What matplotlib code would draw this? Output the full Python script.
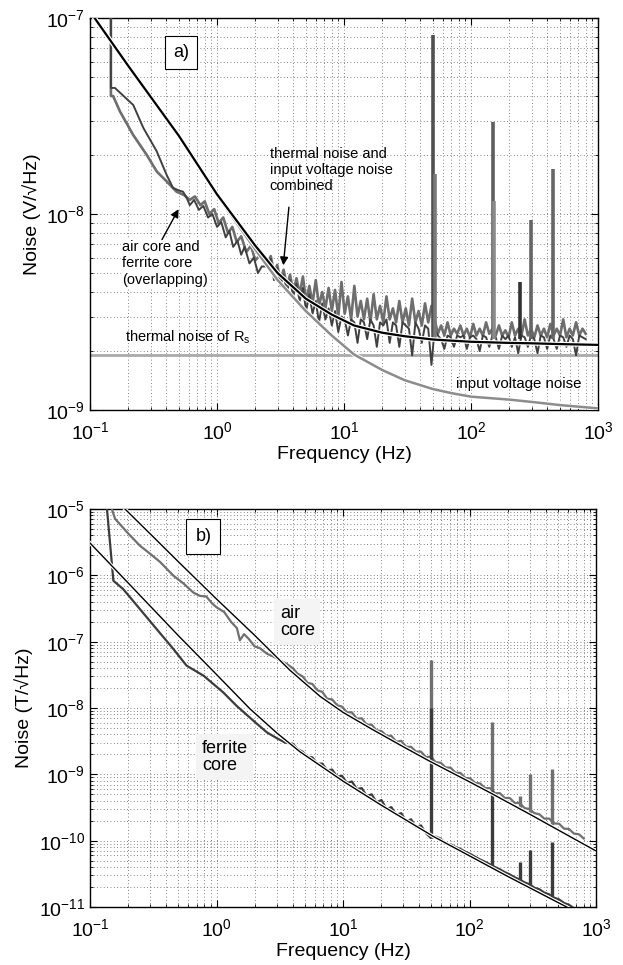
import numpy as np
import matplotlib
matplotlib.use("Agg")
import matplotlib.pyplot as plt
import matplotlib.patheffects as pe
from matplotlib.ticker import LogLocator, LogFormatterMathtext, NullFormatter

plt.rcParams['font.family'] = ['Liberation Sans', 'DejaVu Sans']
plt.rcParams['mathtext.fontset'] = 'custom'
plt.rcParams['mathtext.rm'] = 'Liberation Sans'
plt.rcParams['mathtext.it'] = 'Liberation Sans:italic'
plt.rcParams['mathtext.bf'] = 'Liberation Sans:bold'

# ---------------- panel a) data (V/sqrt(Hz), x 1e-9) ----------------
model_f = [0.1, 0.2, 0.5, 1, 2, 3, 5, 8, 12, 20, 30, 50, 70, 100, 200, 300, 500, 1000]
input_noise = [108, 57, 25, 12.5, 6.6, 4.6, 3.2, 2.4, 1.92, 1.6, 1.42, 1.28, 1.22, 1.17, 1.13, 1.1, 1.06, 1.02]
combined_noise = [108, 57, 25.1, 12.6, 6.9, 5.0, 3.7, 3.07, 2.7, 2.48, 2.38, 2.29, 2.26, 2.23, 2.2, 2.19, 2.17, 2.15]
thermal_f = [0.1, 1000]
thermal_noise = [1.9, 1.9]

# measured spectra, low-frequency part
dark_lo_f = [0.146, 0.146, 0.157, 0.219, 0.263, 0.335, 0.40, 0.45, 0.50, 0.54, 0.58, 0.61, 0.66, 0.72,
             0.78, 0.85, 0.92, 1.0, 1.08, 1.17, 1.25, 1.34, 1.45, 1.55, 1.65, 1.8, 1.95, 2.1, 2.25]
dark_lo_v = [130, 44, 44, 36, 27.5, 20.9, 15.9, 13.6, 13.2, 13.0, 12.0, 11.1, 11.8, 10.5,
             11.0, 9.6, 10.0, 8.6, 9.1, 7.6, 8.2, 6.8, 7.3, 6.2, 6.8, 5.6, 6.0, 5.0, 5.4]
light_lo_f = [0.146, 0.146, 0.152, 0.172, 0.218, 0.28, 0.335, 0.40, 0.48, 0.55, 0.61, 0.67, 0.74,
              0.8, 0.87, 0.95, 1.03, 1.12, 1.22, 1.32, 1.43, 1.55, 1.7, 1.85, 2.0, 2.2]
light_lo_v = [130, 40, 40, 33.4, 25.4, 20.0, 16.5, 14.7, 13.0, 12.5, 11.8, 12.3, 11.1,
              11.6, 10.0, 10.6, 9.0, 9.6, 8.0, 8.6, 7.2, 7.7, 6.4, 6.9, 5.8, 6.2]

# measured spectra, 2.5 - 800 Hz (noisy part)
noise_a_f = np.geomspace(2.5, 800, 100)
light_hi_v = [5.6, 6.1, 5.0, 5.5, 4.6, 5.2, 4.3, 4.9, 4.0, 4.7,
              3.9, 4.8, 3.6, 4.3, 3.5, 4.6, 3.4, 4.0, 3.3, 4.2,
              3.2, 4.1, 3.0, 4.5, 3.1, 3.8, 2.9, 4.3, 3.0, 3.6,
              2.9, 3.7, 2.8, 3.9, 2.9, 3.4, 2.8, 3.8, 2.9, 3.3,
              2.8, 3.6, 2.8, 3.3, 2.7, 3.7, 2.8, 3.2, 2.7, 3.5,
              2.8, 3.4, 2.9,
              2.45, 2.7, 2.4, 2.8, 2.4, 2.6, 2.45,
              2.7, 2.4, 2.6, 2.35, 2.75, 2.4, 2.6, 2.4, 2.8, 2.45,
              2.6, 2.4, 2.7, 2.4, 2.55, 2.35, 2.8, 2.4, 2.6, 2.4,
              2.9, 2.4, 2.6, 2.35, 2.7, 2.4, 2.6, 2.35, 2.75, 2.4,
              2.6, 2.4, 2.9, 2.35, 2.6, 2.4, 2.8, 2.4, 2.6, 2.45]
dark_hi_v = [5.4, 5.9, 4.6, 5.3, 4.3, 4.9, 4.0, 4.6, 3.8, 4.4,
             3.6, 4.2, 3.2, 3.9, 3.1, 3.6, 2.8, 3.5, 2.9, 3.3,
             2.7, 3.2, 2.5, 3.0, 2.9, 2.4, 2.9, 2.8, 2.2, 2.9,
             2.8, 2.3, 2.9, 2.7, 2.1, 2.8, 2.7, 2.9, 2.2, 2.8,
             2.7, 2.1, 2.8, 2.7, 2.6, 1.9, 2.8, 2.6, 2.2, 2.7,
             2.6, 1.7, 2.6,
             2.4, 2.3, 2.05, 2.4, 2.35, 2.1, 2.4,
             2.35, 2.4, 2.05, 2.35, 2.4, 2.3, 2.0, 2.4, 2.35, 2.1,
             2.4, 2.35, 2.05, 2.4, 2.3, 2.4, 2.1, 2.35, 1.95, 2.4,
             2.35, 2.1, 2.4, 2.3, 1.95, 2.4, 2.35, 2.05, 2.4, 2.3,
             2.05, 2.4, 2.35, 2.1, 2.4, 2.3, 1.9, 2.4, 2.35, 2.3]

# mains harmonics
spike_a_f = [50, 52, 150, 152, 245, 295, 445]
spike_a_top = [82, 16, 29.5, 11.7, 4.5, 9.3, 17]
spike_a_base = [2.3, 2.3, 2.3, 2.3, 2.3, 2.3, 2.3]
spike_a_col = ['#505050', '#7a7a7a', '#5e5e5e', '#8a8a8a', '#333333', '#666666', '#666666']

# ---------------- panel b) data (T/sqrt(Hz)) ----------------
air_model_f = [0.17, 0.3, 0.5, 1, 2, 3.81, 6.58, 10, 16.9, 30, 47.2, 100, 145, 300, 600, 1000]
air_model_v = [1.22e-5, 4.2e-6, 1.6e-6, 4.4e-7, 1.25e-7, 3.7e-8, 1.5e-8, 8.6e-9, 4.8e-9, 2.6e-9,
               1.62e-9, 7.7e-10, 5.3e-10, 2.5e-10, 1.2e-10, 7.0e-11]
fer_model_f = [0.1, 0.2, 0.5, 1, 1.84, 3, 4.57, 10, 20, 51.7, 100, 200, 586, 1000]
fer_model_v = [3.07e-6, 7.7e-7, 1.23e-7, 3.2e-8, 9.7e-9, 4.2e-9, 2.19e-9, 7.9e-10, 3.44e-10,
               1.16e-10, 5.9e-11, 2.9e-11, 1.0e-11, 5.8e-12]

air_lo_f = [0.145, 0.150, 0.158, 0.2, 0.248, 0.3, 0.357, 0.456, 0.55, 0.656, 0.74, 0.83, 0.92, 1.0,
            1.15, 1.3, 1.45, 1.53, 1.65, 1.8, 2.0, 2.2, 2.5, 2.8, 3.2, 3.6]
air_lo_v = [1.3e-5, 9.5e-6, 7.1e-6, 4.3e-6, 2.8e-6, 2.1e-6, 1.6e-6, 9.9e-7, 7.5e-7, 5.5e-7, 4.9e-7,
            4.8e-7, 3.8e-7, 3.3e-7, 2.8e-7, 2.0e-7, 1.6e-7, 1.05e-7, 1.3e-7, 1.1e-7, 8.5e-8, 8.0e-8,
            6.6e-8, 6.0e-8, 5.2e-8, 4.6e-8]
fer_lo_f = [0.135, 0.153, 0.183, 0.248, 0.336, 0.455, 0.58, 0.79, 1.13, 1.44, 2.0, 2.5, 3.0, 3.5]
fer_lo_v = [1.2e-5, 8.3e-7, 6.2e-7, 3.1e-7, 1.55e-7, 7.8e-8, 4.35e-8, 3.07e-8, 1.72e-8, 1.08e-8,
            6.2e-9, 4.3e-9, 3.5e-9, 3.0e-9]

noise_b_f = np.geomspace(4, 800, 60)
air_hi_v = [40, 33, 30, 24, 23, 18.5, 17.5, 13.8, 13.5, 11.0,
            10.5, 8.6, 8.6, 6.9, 7.0, 5.6, 5.6, 4.6, 4.5, 3.8,
            3.8, 3.1, 3.2, 2.6, 2.6, 2.2, 2.2, 1.82, 1.85, 1.52,
            1.5, 1.27, 1.26, 1.06, 1.05, 0.88, 0.87, 0.74, 0.73, 0.62,
            0.62, 0.52, 0.52, 0.44, 0.44, 0.37, 0.37, 0.31, 0.30, 0.26,
            0.25, 0.215, 0.215, 0.182, 0.18, 0.152, 0.15, 0.128, 0.125, 0.108]   # x 1e-9
fer_hi_v = [29, 24, 22, 18.5, 18.0, 14.5, 14.5, 11.5, 11.8, 9.2,
            9.5, 7.4, 7.8, 6.0, 6.2, 4.7, 5.0, 3.8, 4.1, 3.0,
            3.2, 2.45, 2.6, 1.95, 2.1, 1.6, 1.7, 1.3, 1.1, 1.15,
            1.07, 0.9, 0.88, 0.8, 0.75, 0.68, 0.63, 0.57, 0.52, 0.48,
            0.44, 0.4, 0.37, 0.335, 0.31, 0.28, 0.26, 0.235, 0.22, 0.195,
            0.185, 0.165, 0.155, 0.138, 0.13, 0.115, 0.108, 0.096, 0.09, 0.08]   # x 1e-10

spike_b_f = [50, 150, 250, 300, 450]
air_spike_top = [53, 6.1, 0.47, 1.0, 1.2]          # x 1e-9
air_spike_base = [1.5, 0.5, 0.3, 0.25, 0.17]
fer_spike_top = [100, 5.8, 0.48, 0.73, 0.96]       # x 1e-10
fer_spike_base = [1.1, 0.4, 0.23, 0.19, 0.13]

# ---------------- figure ----------------
fig = plt.figure(figsize=(6.23, 9.65), dpi=100)
ax1 = fig.add_axes([0.1445, 0.5751, 0.8154, 0.4062])
ax2 = fig.add_axes([0.1445, 0.0601, 0.8122, 0.4124])

halo = [pe.Stroke(linewidth=3.2, foreground='white'), pe.Normal()]
halo_thin = [pe.Stroke(linewidth=2.6, foreground='white'), pe.Normal()]

def style(ax, ylo, yhi, ylabel):
    ax.set_xscale('log')
    ax.set_yscale('log')
    ax.set_xlim(0.1, 1000)
    ax.set_ylim(ylo, yhi)
    ax.xaxis.set_major_locator(LogLocator(base=10, numticks=20))
    ax.yaxis.set_major_locator(LogLocator(base=10, numticks=20))
    ax.xaxis.set_minor_locator(LogLocator(base=10, subs=np.arange(2, 10), numticks=20))
    ax.yaxis.set_minor_locator(LogLocator(base=10, subs=np.arange(2, 10), numticks=20))
    ax.xaxis.set_major_formatter(LogFormatterMathtext())
    ax.yaxis.set_major_formatter(LogFormatterMathtext())
    ax.xaxis.set_minor_formatter(NullFormatter())
    ax.yaxis.set_minor_formatter(NullFormatter())
    ax.grid(True, which='both', color='0.35', linestyle=(0, (1, 3)), linewidth=0.6)
    ax.set_axisbelow(True)
    ax.tick_params(which='both', direction='in', top=True, right=True, labelsize=14, color='k')
    ax.tick_params(which='major', length=5, width=0.8)
    ax.tick_params(which='minor', length=2.5, width=0.6)
    ax.tick_params(axis='x', which='major', pad=8)
    for s in ax.spines.values():
        s.set_linewidth(1.0)
    ax.set_xlabel('Frequency (Hz)', fontsize=14, labelpad=2)
    ax.set_ylabel(ylabel, fontsize=14, labelpad=4)

# ---- panel a ----
style(ax1, 1e-9, 1e-7, 'Noise (V/\u221aHz)')
e9 = 1e-9
ax1.plot(thermal_f, np.array(thermal_noise) * e9, color='#aaaaaa', lw=2.0, zorder=2)
ax1.plot(np.r_[light_lo_f, noise_a_f], np.r_[light_lo_v, light_hi_v] * e9, color='#6e6e6e', lw=1.9, zorder=3)
ax1.plot(np.r_[dark_lo_f, noise_a_f], np.r_[dark_lo_v, dark_hi_v] * e9, color='#404040', lw=1.4, zorder=3)
for f, lo, hi, c in zip(spike_a_f, spike_a_base, spike_a_top, spike_a_col):
    ax1.plot([f, f], [lo * e9, hi * e9], color=c, lw=2.6, solid_capstyle='butt', zorder=3)
ax1.plot(model_f, np.array(input_noise) * e9, color='#8c8c8c', lw=1.8, zorder=4, path_effects=halo)
ax1.plot(model_f, np.array(combined_noise) * e9, color='black', lw=1.6, zorder=5, path_effects=halo)

ax1.text(0.179, 0.913, 'a)', transform=ax1.transAxes, fontsize=13, ha='center', va='center',
         bbox=dict(boxstyle='square,pad=0.45', fc='white', ec='black', lw=0.8), zorder=6)
ax1.text(0.354, 0.672, 'thermal noise and\ninput voltage noise\ncombined', transform=ax1.transAxes,
         fontsize=10.5, ha='left', va='top', linespacing=1.2, zorder=6)
ax1.annotate('', xy=(3.31, 5.3e-9), xytext=(3.7, 1.12e-8),
             arrowprops=dict(arrowstyle='-|>', color='black', lw=1.0, mutation_scale=12), zorder=6)
ax1.text(0.063, 0.433, 'air core and\nferrite core\n(overlapping)', transform=ax1.transAxes,
         fontsize=10.5, ha='left', va='top', linespacing=1.2, zorder=6,
         bbox=dict(boxstyle='square,pad=0.1', fc='white', ec='none'))
ax1.annotate('', xy=(0.51, 1.09e-8), xytext=(0.36, 7.2e-9),
             arrowprops=dict(arrowstyle='-|>', color='black', lw=1.0, mutation_scale=12), zorder=6)
ax1.text(0.069, 0.186, 'thermal noise of R$_\\mathrm{s}$', transform=ax1.transAxes,
         fontsize=10.5, ha='left', va='center', zorder=6)
ax1.text(0.968, 0.066, 'input voltage noise', transform=ax1.transAxes,
         fontsize=10.8, ha='right', va='center', zorder=6)

# ---- panel b ----
style(ax2, 1e-11, 1e-5, 'Noise (T/\u221aHz)')
ax2.plot(np.r_[air_lo_f, noise_b_f], np.r_[air_lo_v, np.array(air_hi_v) * 1e-9],
         color='#707070', lw=1.6, zorder=3)
for f, lo, hi in zip(spike_b_f, air_spike_base, air_spike_top):
    ax2.plot([f, f], [lo * 1e-9, hi * 1e-9], color='#707070', lw=2.4, solid_capstyle='butt', zorder=3)
ax2.plot(np.r_[fer_lo_f, noise_b_f], np.r_[fer_lo_v, np.array(fer_hi_v) * 1e-10],
         color='#3c3c3c', lw=1.6, zorder=3)
for f, lo, hi in zip(spike_b_f, fer_spike_base, fer_spike_top):
    ax2.plot([f, f], [lo * 1e-10, hi * 1e-10], color='#3c3c3c', lw=2.4, solid_capstyle='butt', zorder=3)
ax2.plot(air_model_f, air_model_v, color='black', lw=1.0, zorder=5, path_effects=halo_thin)
ax2.plot(fer_model_f, fer_model_v, color='black', lw=1.0, zorder=5, path_effects=halo_thin)

ax2.text(0.224, 0.93, 'b)', transform=ax2.transAxes, fontsize=13, ha='center', va='center',
         bbox=dict(boxstyle='square,pad=0.5', fc='white', ec='black', lw=0.8), zorder=6)
ax2.text(0.375, 0.716, 'air\ncore', transform=ax2.transAxes, fontsize=13, ha='left', va='center',
         linespacing=1.05, zorder=6, bbox=dict(boxstyle='square,pad=0.3', fc='#f4f4f4', ec='none'))
ax2.text(0.221, 0.377, 'ferrite\ncore', transform=ax2.transAxes, fontsize=13, ha='left', va='center',
         linespacing=1.05, zorder=6, bbox=dict(boxstyle='square,pad=0.3', fc='#f4f4f4', ec='none'))

fig.savefig('out.png', dpi=100)
